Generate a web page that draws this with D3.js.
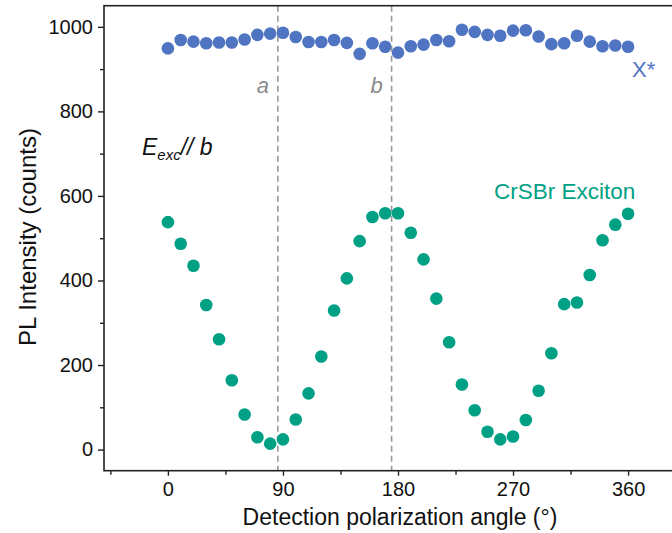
<!DOCTYPE html>
<html>
<head>
<meta charset="utf-8">
<script src="https://cdn.jsdelivr.net/npm/d3@7"></script>
<style>
  html, body { margin: 0; padding: 0; background: #fff; }
  svg { display: block; font-family: "Liberation Sans", Arial, sans-serif; }
</style>
</head>
<body>
<svg id="chart" width="672" height="533"></svg>
<script>
// ---- data ----
const angles = [0,10,20,30,40,50,60,70,80,90,100,110,120,130,140,150,160,170,180,
                190,200,210,220,230,240,250,260,270,280,290,300,310,320,330,340,350,360];
const trionValues = [949,969,965,961,963,963,970,981,984,986,976,964,964,969,962,936,961,953,939,
                     954,958,969,966,993,988,981,979,991,992,977,959,961,979,965,954,956,953];
const excitonValues = [538,487,435,342,261,164,83,29,14,24,71,133,220,329,405,493,550,559,559,
                       513,450,357,254,154,93,42,24,31,70,139,228,344,348,413,495,532,558];
const xTicks = [0, 90, 180, 270, 360];
const xMinorTicks = [-45, 45, 135, 225, 315, 405];
const yTicks = [0, 200, 400, 600, 800, 1000];
const yMinorTicks = [100, 300, 500, 700, 900];
const crystalAxes = [{label: "a", angle: 86}, {label: "b", angle: 175}];

const svg = d3.select("#chart");
const mLeft = 104, mRight = 692, mTop = 5.7, mBottom = 470.7;
const x = d3.scaleLinear().domain([-50, 410]).range([mLeft, mRight]);
const y = d3.scaleLinear().domain([-50, 1050]).range([mBottom, mTop]);

const blue = "#4f74c2", green = "#00a085", axisCol = "#222";

// dashed crystal-axis lines
svg.selectAll("line.crys").data(crystalAxes).enter().append("line")
  .attr("x1", d => x(d.angle)).attr("x2", d => x(d.angle))
  .attr("y1", mTop).attr("y2", mBottom)
  .attr("stroke", "#999").attr("stroke-width", 1.6).attr("stroke-dasharray", "6,4");
svg.selectAll("text.crys").data(crystalAxes).enter().append("text")
  .attr("x", d => x(d.angle) - 15).attr("y", 93)
  .attr("text-anchor", "middle").attr("font-style", "italic")
  .attr("font-size", 22).attr("fill", "#8a8a8a").text(d => d.label);

// points
svg.selectAll("circle.tr").data(angles).enter().append("circle")
  .attr("cx", d => x(d)).attr("cy", (d, i) => y(trionValues[i]))
  .attr("r", 6.3).attr("fill", blue);
svg.selectAll("circle.ex").data(angles).enter().append("circle")
  .attr("cx", d => x(d)).attr("cy", (d, i) => y(excitonValues[i]))
  .attr("r", 6.3).attr("fill", green);

// axes
const xAxis = d3.axisBottom(x).tickValues(xTicks).tickSize(5).tickPadding(6).tickFormat(d3.format("d"));
svg.append("g").attr("transform", `translate(0,${mBottom})`).call(xAxis);
const xMinor = d3.axisBottom(x).tickValues(xMinorTicks).tickSize(4).tickFormat("");
svg.append("g").attr("transform", `translate(0,${mBottom})`).call(xMinor);

const yAxis = d3.axisLeft(y).tickValues(yTicks).tickSize(6).tickPadding(5).tickFormat(d3.format("d"));
svg.append("g").attr("transform", `translate(${mLeft},0)`).call(yAxis);
const yMinor = d3.axisLeft(y).tickValues(yMinorTicks).tickSize(4).tickFormat("");
svg.append("g").attr("transform", `translate(${mLeft},0)`).call(yMinor);

svg.selectAll(".domain").remove();
svg.selectAll(".tick line").attr("stroke", axisCol).attr("stroke-width", 1.4);
svg.selectAll(".tick text").attr("font-size", 20).attr("fill", "#111")
  .attr("font-family", "Liberation Sans, Arial, sans-serif");

// frame
svg.append("rect").attr("x", mLeft).attr("y", mTop)
  .attr("width", mRight - mLeft).attr("height", mBottom - mTop)
  .attr("fill", "none").attr("stroke", axisCol).attr("stroke-width", 1.6);

// axis titles
svg.append("text").attr("x", 400).attr("y", 525).attr("text-anchor", "middle")
  .attr("font-size", 23).attr("fill", "#111").text("Detection polarization angle (°)");
svg.append("text").attr("transform", "translate(36,237) rotate(-90)")
  .attr("text-anchor", "middle").attr("font-size", 24).attr("fill", "#111")
  .text("PL Intensity (counts)");

// annotations
svg.append("text").attr("x", 632).attr("y", 77).attr("font-size", 22).attr("fill", blue).text("X*");
svg.append("text").attr("x", 494).attr("y", 199).attr("font-size", 22.5).attr("fill", green).text("CrSBr Exciton");
const eText = svg.append("text").attr("x", 142).attr("y", 155).attr("font-size", 23)
  .attr("font-style", "italic").attr("fill", "#111");
eText.append("tspan").text("E");
eText.append("tspan").attr("font-size", 15).attr("dy", 5).text("exc");
eText.append("tspan").attr("dy", -5).text("// b");
</script>
</body>
</html>
